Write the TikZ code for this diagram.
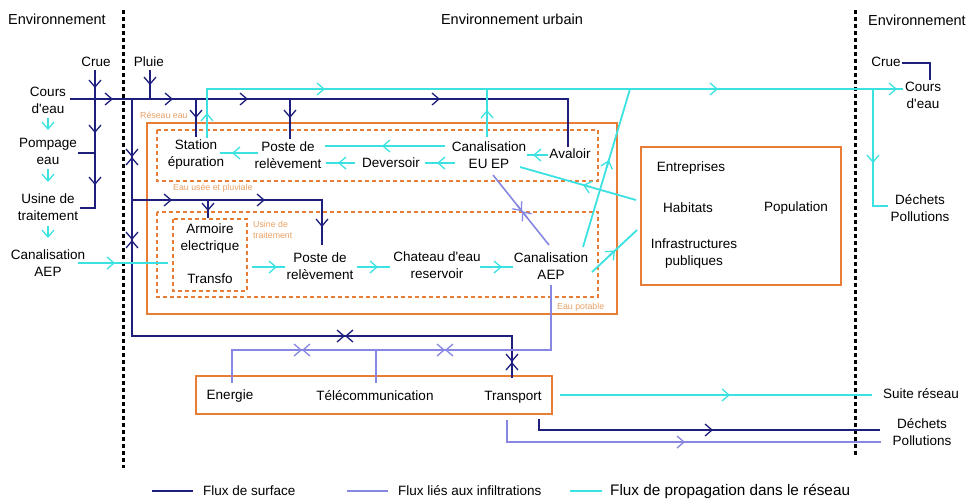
\documentclass[tikz,border=0pt]{standalone}
\usepackage{fontspec}
\setmainfont{Liberation Sans}
\usetikzlibrary{arrows.meta,calc}
\definecolor{navy}{RGB}{30,30,125}
\definecolor{cyanl}{RGB}{60,225,225}
\definecolor{purp}{RGB}{135,135,225}
\definecolor{orangeb}{RGB}{232,126,54}
\definecolor{lorange}{RGB}{232,160,100}
\tikzset{
 lbl/.style={font=\fontsize{13.5}{17}\selectfont, align=center, inner sep=0pt},
 hdr/.style={font=\fontsize{14.5}{17}\selectfont, inner sep=0pt},
 smalllbl/.style={font=\fontsize{8.8}{11}\selectfont, text=lorange, inner sep=0pt, align=left, anchor=west},
 nv/.style={draw=navy, line width=1.8pt},
 cy/.style={draw=cyanl, line width=1.8pt},
 pu/.style={draw=purp, line width=1.6pt},
 obox/.style={draw=orangeb, line width=2.6pt},
 dbox/.style={draw=orangeb, line width=1.8pt, dash pattern=on 4pt off 3pt},
 divider/.style={draw=black, line width=3pt, dash pattern=on 4pt off 3pt},
 tipped/.style={-{Straight Barb[length=7pt,width=12pt,line width=1.3pt]}},
}
\newcommand\arrtip[3]{\draw[#1,tipped] #2 -- #3;}
\newcommand\bidir[4]{%
 \draw[#1,tipped] ($#2-(#3,#4)$) -- #2;
 \draw[#1,tipped] ($#2+(#3,#4)$) -- #2;}
\newcommand\ap{\textquotesingle}
\begin{document}
\begin{tikzpicture}[x=1pt,y=-1pt]
\useasboundingbox (0,0) rectangle (967,499);

% dividers
\draw[divider] (123,10) -- (123,468);
\draw[divider] (855,10) -- (855,456);

% headers
\node[hdr] (envL) at (57,19) {Environnement};
\node[hdr] (envU) at (512,19) {Environnement urbain};
\node[hdr] (envR) at (917,20) {Environnement};

% boxes
\draw[obox] (147,123) rectangle (617,314);
\draw[dbox] (157,130) rectangle (598,181);
\draw[dbox] (157,212) rectangle (598,297);
\draw[dbox] (173,219) rectangle (247,291);
\draw[obox] (641,147) rectangle (841,285);
\draw[obox] (196,376) rectangle (552,414);

\node[smalllbl] (lres) at (140,115) {Réseau eau};
\node[smalllbl] (leu) at (173,188) {Eau usée et pluviale};
\node[smalllbl] (lus) at (253,229.5) {Usine de\\traitement};
\node[smalllbl] (lpot) at (557,307) {Eau potable};

% left column
\node[lbl] (crueL) at (96,62) {Crue};
\node[lbl] (pluie) at (149,62) {Pluie};
\node[lbl] (coursL) at (48,100) {Cours\\d\ap eau};
\node[lbl] (pompage) at (48,151.5) {Pompage\\eau};
\node[lbl] (usine) at (48,207.5) {Usine de\\traitement};
\node[lbl] (canAEPL) at (48,263) {Canalisation\\AEP};

% right column
\node[lbl] (crueR) at (886,62) {Crue};
\node[lbl] (coursR) at (923,95) {Cours\\d\ap eau};
\node[lbl] (dechR) at (920,208) {Déchets\\Pollutions};
\node[lbl] (suite) at (921,394) {Suite réseau};
\node[lbl] (dechB) at (922,432) {Déchets\\Pollutions};

% reseau
\node[lbl] (station) at (196,155) {Station\\épuration};
\node[lbl] (poste1) at (288,155) {Poste de\\relèvement};
\node[lbl] (devers) at (391,163) {Deversoir};
\node[lbl] (canEU) at (489,155) {Canalisation\\EU EP};
\node[lbl] (avaloir) at (570,154) {Avaloir};
\node[lbl] (armoire) at (210,238.5) {Armoire\\electrique};
\node[lbl] (transfo) at (210,279) {Transfo};
\node[lbl] (poste2) at (320,266) {Poste de\\relèvement};
\node[lbl] (chateau) at (437,265) {Chateau d\ap eau\\reservoir};
\node[lbl] (canAEP) at (551,266) {Canalisation\\AEP};

\node[lbl] (entre) at (691,168) {Entreprises};
\node[lbl] (habit) at (688,208) {Habitats};
\node[lbl] (popu) at (796,208) {Population};
\node[lbl] (infra) at (694,254) {Infrastructures\\publiques};

\node[lbl] (energie) at (230,396) {Energie};
\node[lbl] (telecom) at (375,396) {Télécommunication};
\node[lbl] (transport) at (513,397) {Transport};

% ---- navy (surface) ----
\draw[nv] (70,99) -- (568,99) -- (568,147);
\arrtip{nv}{(105,99)}{(113,99)}
\arrtip{nv}{(165,99)}{(173,99)}
\arrtip{nv}{(240,99)}{(248,99)}
\arrtip{nv}{(432,99)}{(440,99)}
\draw[nv] (95,70) -- (95,208) -- (80,208);
\draw[nv] (78,153) -- (95,153);
\arrtip{nv}{(95,80)}{(95,88)}
\arrtip{nv}{(95,125)}{(95,133)}
\arrtip{nv}{(95,177)}{(95,185)}
\draw[nv] (150,70) -- (150,99);
\arrtip{nv}{(150,77)}{(150,85)}
\draw[nv] (196,99) -- (196,137);
\arrtip{nv}{(196,110)}{(196,118)}
\draw[nv] (290,99) -- (290,139);
\arrtip{nv}{(290,110)}{(290,118)}
\draw[nv] (132,99) -- (132,336) -- (512,336) -- (512,378);
\bidir{nv}{(132,157)}{0}{8}
\bidir{nv}{(132,240)}{0}{8}
\bidir{nv}{(345,336)}{8}{0}
\bidir{nv}{(512,362)}{0}{8}
\draw[nv] (132,200) -- (322,200) -- (322,245);
\arrtip{nv}{(164,200)}{(172,200)}
\arrtip{nv}{(257,200)}{(265,200)}
\arrtip{nv}{(322,219)}{(322,227)}
\draw[nv] (208,200) -- (208,218);
\arrtip{nv}{(208,203)}{(208,211)}
\draw[nv] (539,419) -- (539,430) -- (880,430);
\arrtip{nv}{(705,430)}{(713,430)}
\draw[nv] (902,63) -- (930,63) -- (930,80);

% ---- cyan (propagation) ----
\draw[cy] (207,138) -- (207,89) -- (903,89);
\arrtip{cy}{(207,121)}{(207,113)}
\arrtip{cy}{(317,89)}{(325,89)}
\arrtip{cy}{(710,89)}{(718,89)}
\arrtip{cy}{(889,89)}{(897,89)}
\draw[cy] (873,89) -- (873,206) -- (888,206);
\arrtip{cy}{(873,155)}{(873,163)}
\draw[cy] (487,137) -- (487,89);
\arrtip{cy}{(487,118)}{(487,110)}
\draw[cy] (583,247) -- (630,89);
\arrtip{cy}{(606.5,168)}{(608.9,160)}
\draw[cy] (520,167) -- (636,200);
\arrtip{cy}{(590.7,187.1)}{(583,184.9)}
\draw[cy] (592,272) -- (637,230);
\arrtip{cy}{(609.2,256)}{(615,250.5)}
\draw[cy] (445,146) -- (325,146);
\arrtip{cy}{(390,146)}{(382,146)}
\draw[cy] (258,153) -- (220,153);
\arrtip{cy}{(240,153)}{(232,153)}
\draw[cy] (355,163) -- (326,163);
\arrtip{cy}{(346,163)}{(338,163)}
\draw[cy] (455,163) -- (425,163);
\arrtip{cy}{(445,163)}{(437,163)}
\draw[cy] (548,155) -- (527,155);
\arrtip{cy}{(541,155)}{(533,155)}
\draw[cy] (252,267) -- (285,267);
\arrtip{cy}{(269,267)}{(277,267)}
\draw[cy] (357,267) -- (390,267);
\arrtip{cy}{(370,267)}{(378,267)}
\draw[cy] (480,267) -- (513,267);
\arrtip{cy}{(494,267)}{(502,267)}
\draw[cy] (78,263) -- (168,263);
\arrtip{cy}{(107,263)}{(115,263)}
\draw[cy] (560,395) -- (872,395);
\arrtip{cy}{(722,395)}{(730,395)}
\arrtip{cy}{(48,118)}{(48,130)}
\arrtip{cy}{(48,169)}{(48,182)}
\arrtip{cy}{(48,226)}{(48,238)}

% ---- purple (infiltration) ----
\draw[pu] (493,175) -- (549,245);
\bidir{pu}{(522,211.25)}{5}{6.25}
\draw[pu] (551,285) -- (551,350) -- (232,350) -- (232,383);
\draw[pu] (376,350) -- (376,383);
\bidir{pu}{(302,350)}{8}{0}
\bidir{pu}{(445,350)}{8}{0}
\draw[pu] (507,420) -- (507,442) -- (881,442);
\arrtip{pu}{(677,442)}{(685,442)}

% legend
\node[lbl, anchor=west] (leg1) at (203,491) {Flux de surface};
\node[lbl, anchor=west] (leg2) at (398,491) {Flux liés aux infiltrations};
\node[lbl, anchor=west, font=\fontsize{15.3}{17}\selectfont] (leg3) at (610,491) {Flux de propagation dans le réseau};
\draw[nv] ([xshift=-51pt]leg1.west) -- ([xshift=-10pt]leg1.west);
\draw[pu] ([xshift=-51pt]leg2.west) -- ([xshift=-10pt]leg2.west);
\draw[cy] ([xshift=-40pt]leg3.west) -- ([xshift=-8pt]leg3.west);
\end{tikzpicture}
\end{document}
